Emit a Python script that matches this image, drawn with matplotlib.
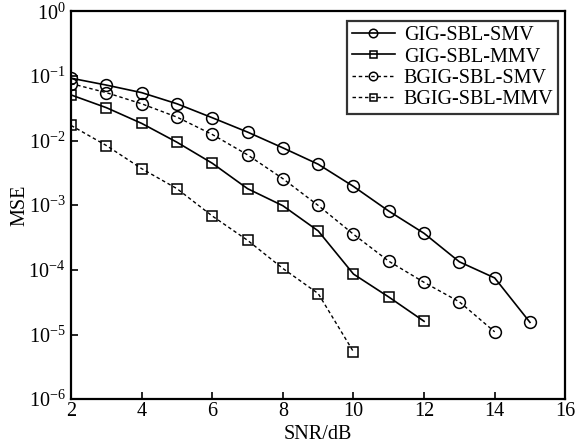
import matplotlib
matplotlib.use("Agg")
import matplotlib.pyplot as plt
from matplotlib.ticker import LogLocator, NullLocator

plt.rcParams['font.family'] = ['Liberation Serif', 'DejaVu Serif']
plt.rcParams['mathtext.fontset'] = 'custom'
plt.rcParams['mathtext.rm'] = 'Liberation Serif'
plt.rcParams['mathtext.it'] = 'Liberation Serif:italic'

snr_gig_smv = [2, 3, 4, 5, 6, 7, 8, 9, 10, 11, 12, 13, 14, 15]
mse_gig_smv = [0.092, 0.072, 0.055, 0.037, 0.0225, 0.0135, 0.0077, 0.0043,
               0.00195, 0.00081, 0.000367, 0.000133, 7.5e-5, 1.54e-5]

snr_gig_mmv = [2, 3, 4, 5, 6, 7, 8, 9, 10, 11, 12]
mse_gig_mmv = [0.0507, 0.0322, 0.0184, 0.0094, 0.00445, 0.0018, 0.00098,
               0.0004, 8.6e-5, 3.8e-5, 1.6e-5]

snr_bgig_smv = [2, 3, 4, 5, 6, 7, 8, 9, 10, 11, 12, 13, 14]
mse_bgig_smv = [0.076, 0.055, 0.037, 0.023, 0.0124, 0.006, 0.00257, 0.00099,
                0.000355, 0.000136, 6.4e-5, 3.2e-5, 1.1e-5]

snr_bgig_mmv = [2, 3, 4, 5, 6, 7, 8, 9, 10]
mse_bgig_mmv = [0.0171, 0.00836, 0.00367, 0.0018, 0.00068, 0.000286,
                0.000105, 4.3e-5, 5.4e-6]

labels = ["GIG-SBL-SMV", "GIG-SBL-MMV", "BGIG-SBL-SMV", "BGIG-SBL-MMV"]
xticks = [2, 4, 6, 8, 10, 12, 14, 16]

FS = 14.5
fig = plt.figure(figsize=(5.78, 4.48), dpi=100)
ax = fig.add_axes([0.123, 0.109, 0.855, 0.866])

dash = (0, (2.5, 2))
ax.plot(snr_gig_smv, mse_gig_smv, color='black', lw=1.2, ls='-', marker='o',
        ms=8.5, mfc='none', mec='black', mew=1.1, label=labels[0])
ax.plot(snr_gig_mmv, mse_gig_mmv, color='black', lw=1.2, ls='-', marker='s',
        ms=7, mfc='none', mec='black', mew=1.1, label=labels[1])
ax.plot(snr_bgig_smv, mse_bgig_smv, color='black', lw=1.0, ls=dash, marker='o',
        ms=8.5, mfc='none', mec='black', mew=1.1, label=labels[2])
ax.plot(snr_bgig_mmv, mse_bgig_mmv, color='black', lw=1.0, ls=dash, marker='s',
        ms=7, mfc='none', mec='black', mew=1.1, label=labels[3])

ax.set_yscale('log')
ax.set_xlim(2, 16)
ax.set_ylim(1e-6, 1e0)
ax.set_xticks(xticks)
ax.yaxis.set_major_locator(LogLocator(base=10, numticks=10))
ax.yaxis.set_minor_locator(NullLocator())
ax.tick_params(direction='in', length=5, width=1.2, labelsize=FS)
ax.tick_params(axis='x', pad=2)
ax.tick_params(axis='y', pad=4)
for s in ax.spines.values():
    s.set_linewidth(1.6)

ax.set_xlabel("SNR/dB", fontsize=FS, labelpad=3)
ax.set_ylabel("MSE", fontsize=FS, labelpad=-1)

leg = ax.legend(loc='upper right', fontsize=FS, frameon=True, fancybox=False,
                edgecolor='black', borderpad=0.25, handlelength=2.1,
                handletextpad=0.45, labelspacing=0.1, markerscale=0.72,
                borderaxespad=0, bbox_to_anchor=(0.986, 0.974))
leg.get_frame().set_linewidth(1.6)

fig.savefig("out.png", dpi=100)
